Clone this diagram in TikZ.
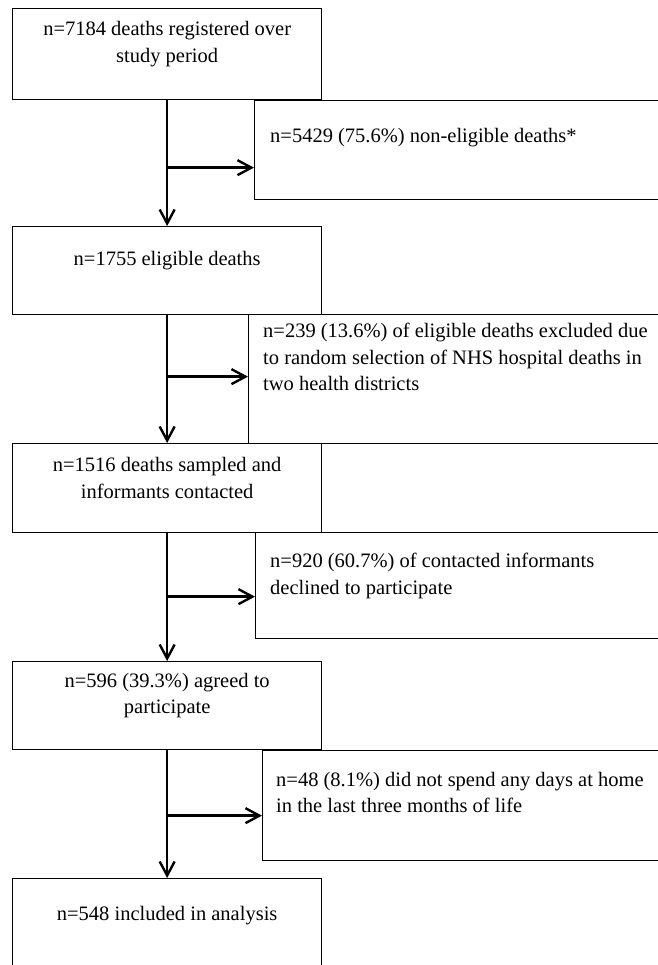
\documentclass[tikz,border=0pt]{standalone}
\usepackage{fontspec}
\setmainfont{Liberation Serif}
\usetikzlibrary{positioning,arrows.meta}

\begin{document}
\begin{tikzpicture}[
  x=1bp, y=-1bp,
  font=\fontsize{20.5bp}{26.5bp}\selectfont,
  box/.style={rectangle, draw=black, line width=1.3bp, anchor=north west, inner sep=0pt,
              minimum width=309bp, minimum height=89bp},
  side/.style={box, minimum width=420bp},
  txt/.style={inner sep=0pt, align=center},
  sidetxt/.style={inner sep=0pt, align=left, anchor=north west},
  arr/.style={-{Straight Barb[length=14bp,width=15bp]}, line width=2.4bp}
]
\useasboundingbox (0,0) rectangle (658,965);
\fill[white] (0,0) rectangle (658,965);
\clip (0,0) rectangle (658,965);

% main flow
\node[box, minimum height=91bp] (b1) at (12,8)   {};
\node[box, minimum height=88bp] (b2) at (12,226) {};
\node[box]                      (b3) at (12,443) {};
\node[box, minimum height=88bp] (b4) at (12,661) {};
\node[box, minimum height=94bp] (b5) at (12,878) {};

% exclusions
\node[side, minimum height=99bp]  (s1) at (254,100) {};
\node[side, minimum height=129bp] (s2) at (248,314) {};
\node[side, minimum height=106bp] (s3) at (255,532) {};
\node[side, minimum height=110bp] (s4) at (262,750) {};

\node[txt] (t1) at ([yshift=10bp]b1.center) {n=7184 deaths registered over\\study period};
\node[txt] (t2) at ([yshift=10bp]b2.center) {n=1755 eligible deaths};
\node[txt] (t3) at ([yshift=10bp]b3.center) {n=1516 deaths sampled and\\informants contacted};
\node[txt] (t4) at ([yshift=10bp]b4.center) {n=596 (39.3\%) agreed to\\participate};
\node[txt] (t5) at ([yshift=10bp]b5.center) {n=548 included in analysis};

\node[sidetxt] (u1) at ([shift={(16,28)}]s1.north west) {n=5429 (75.6\%) non-eligible deaths*};
\node[sidetxt] (u2) at ([shift={(15,9)}]s2.north west)  {n=239 (13.6\%) of eligible deaths excluded due\\to random selection of NHS hospital deaths in\\two health districts};
\node[sidetxt] (u3) at ([shift={(15,21)}]s3.north west) {n=920 (60.7\%) of contacted informants\\declined to participate};
\node[sidetxt] (u4) at ([shift={(14,22)}]s4.north west) {n=48 (8.1\%) did not spend any days at home\\in the last three months of life};

% arrows
\coordinate (j1) at ([yshift=-17.5bp]s1.west);
\coordinate (j2) at ([yshift=2.5bp]s2.west);
\coordinate (j3) at ([yshift=-11bp]s3.west);
\coordinate (j4) at ([yshift=-10bp]s4.west);

\draw[arr] (b1.south) -- (b2.north);
\draw[arr] (b1.south |- j1) -- (j1);
\draw[arr] (b2.south) -- (b3.north);
\draw[arr] (b2.south |- j2) -- (j2);
\draw[arr] (b3.south) -- (b4.north);
\draw[arr] (b3.south |- j3) -- (j3);
\draw[arr] (b4.south) -- (b5.north);
\draw[arr] (b4.south |- j4) -- (j4);
\end{tikzpicture}
\end{document}
